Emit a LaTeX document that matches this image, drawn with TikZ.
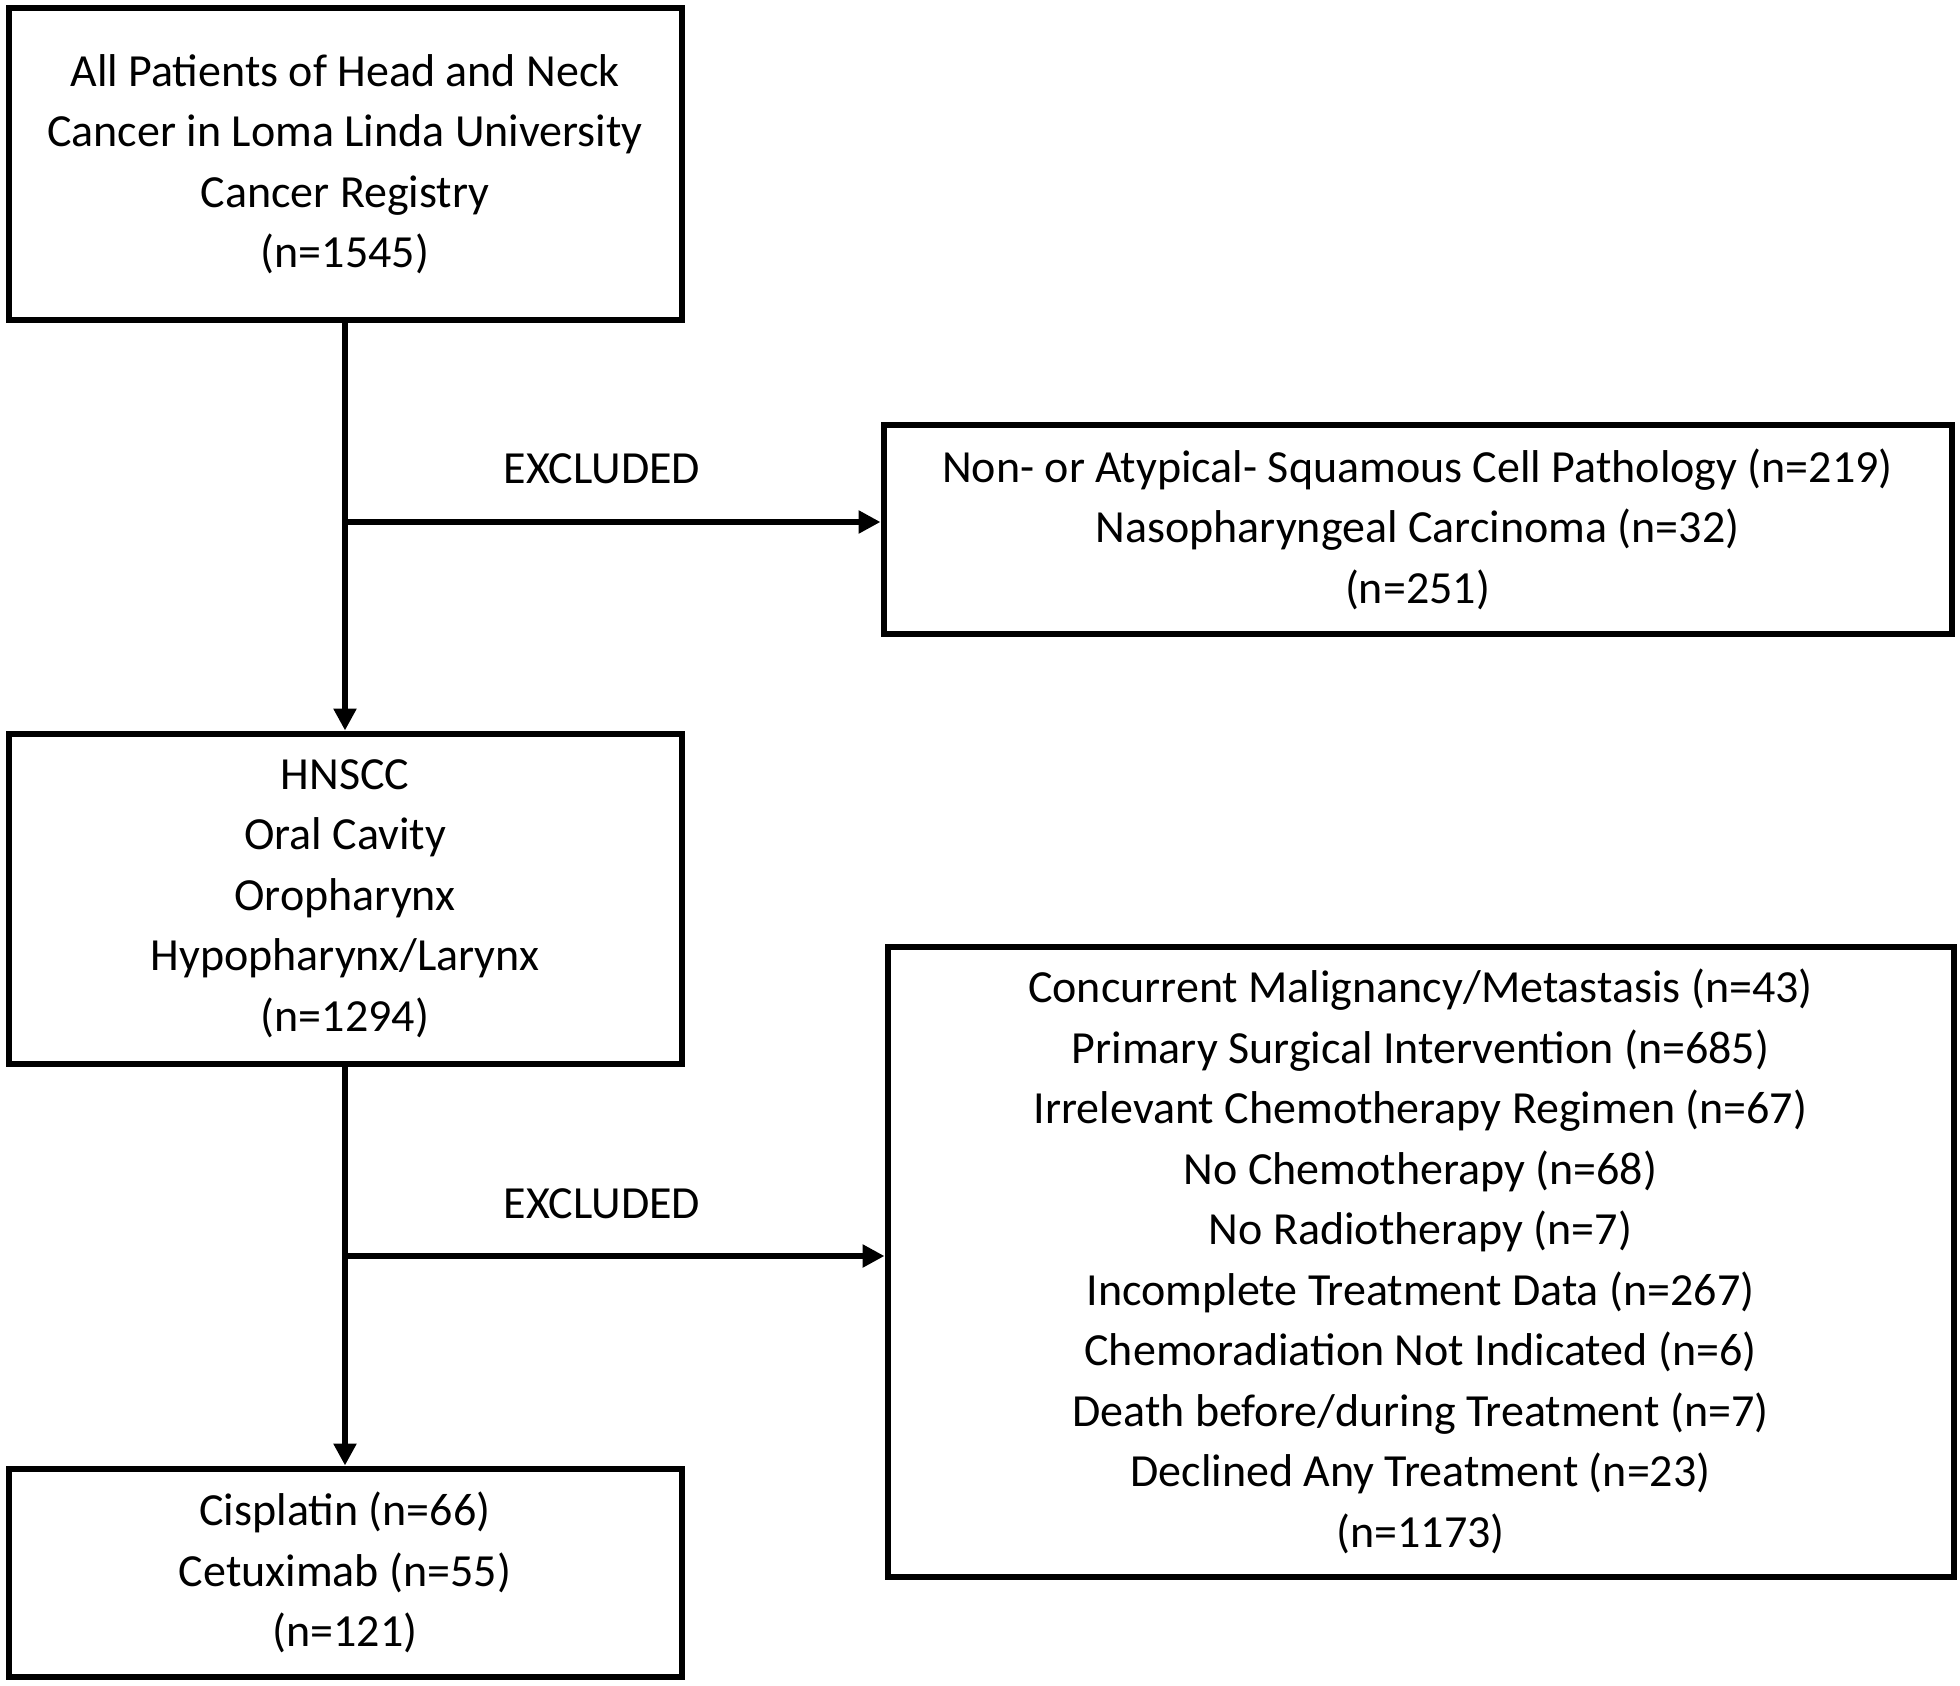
\documentclass[tikz,border=0pt]{standalone}
\usepackage{fontspec}
\setmainfont{Carlito}
\usetikzlibrary{arrows.meta,calc}
\begin{document}
\begin{tikzpicture}[x=1pt,y=-1pt,
  box/.style={draw=black, line width=6pt, align=center, inner sep=0pt,
    font=\fontsize{46}{60.5}\selectfont},
  conn/.style={line width=5.5pt, -{Triangle[length=22pt,width=22pt]}},
  lbl/.style={font=\fontsize{46}{60.5}\selectfont, inner sep=0pt}]
\useasboundingbox (0,0) rectangle (1960,1686);
\fill[white] (0,0) rectangle (1960,1686);
\node[box, minimum width=673pt, minimum height=311pt] (b1) at (345,164)
  {All Patients of Head and Neck\\Cancer in Loma Linda University\\Cancer Registry\\(n=1545)};
\node[box, minimum width=1068pt, minimum height=209pt] (b2) at (1417.5,529)
  {Non- or Atypical- Squamous Cell Pathology (n=219)\\Nasopharyngeal Carcinoma (n=32)\\(n=251)};
\node[box, minimum width=673pt, minimum height=330pt] (b3) at (345,898.5)
  {HNSCC\\Oral Cavity\\Oropharynx\\Hypopharynx/Larynx\\(n=1294)};
\node[box, minimum width=1066pt, minimum height=630pt] (b4) at (1420.5,1261.5)
  {Concurrent Malignancy/Metastasis (n=43)\\Primary Surgical Intervention (n=685)\\Irrelevant Chemotherapy Regimen (n=67)\\No Chemotherapy (n=68)\\No Radiotherapy (n=7)\\Incomplete Treatment Data (n=267)\\Chemoradiation Not Indicated (n=6)\\Death before/during Treatment (n=7)\\Declined Any Treatment (n=23)\\(n=1173)};
\node[box, minimum width=673pt, minimum height=208pt] (b5) at (345,1572.5)
  {Cisplatin (n=66)\\Cetuximab (n=55)\\(n=121)};
\coordinate (j1) at (345,522);
\coordinate (j2) at (345,1256);
\node[lbl] (e1) at (602,469) {EXCLUDED};
\node[lbl] (e2) at (602,1204) {EXCLUDED};
\draw[conn] (b1.south) -- (b3.north);
\draw[conn] (b3.south) -- (b5.north);
\draw[conn] (j1) -- (j1 -| b2.west);
\draw[conn] (j2) -- (j2 -| b4.west);
\end{tikzpicture}
\end{document}
